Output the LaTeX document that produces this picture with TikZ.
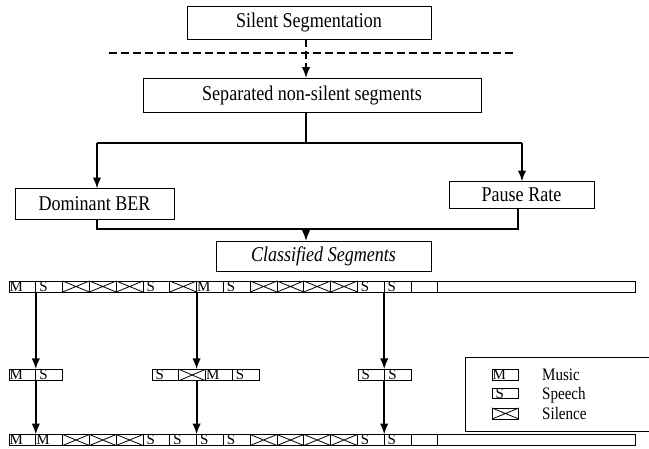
\documentclass[tikz,border=0pt]{standalone}
\usepackage{fontspec}
\setmainfont[FakeStretch=0.86]{Liberation Serif}
\newfontfamily\cellfont{Liberation Serif}
\usetikzlibrary{arrows.meta}
% letter shown inside a segment cell (M = music, S = speech)
\newcommand\segmark[1]{\if#1M\hspace*{0.6pt}M\fi\if#1S\hspace*{3.5pt}S\fi}
\begin{document}
\begin{tikzpicture}[x=1pt,y=-1pt,
  box/.style={draw, line width=0.9pt, inner sep=0pt, outer sep=0pt, font=\fontsize{21}{24}\selectfont},
  link/.style={line width=1.2pt},
  arr/.style={line width=1.8pt, -{Latex[length=11pt,width=8.5pt]}},
  dashlink/.style={line width=1.6pt, dash pattern=on 8pt off 4pt},
  cell/.style={draw, line width=0.9pt, inner sep=0pt, outer sep=0pt, minimum width=26.8pt,
    text width=26.8pt, align=left, font=\cellfont\fontsize{15}{15}\selectfont},
  longcell/.style={draw, line width=0.9pt, inner sep=0pt, outer sep=0pt, minimum width=197.2pt},
  cross/.style={line width=0.8pt},
  legendtext/.style={font=\fontsize{17.5}{17.5}\selectfont, inner sep=0pt, anchor=base west}]
\useasboundingbox (0,0) rectangle (649,448);
\fill[white] (0,0) rectangle (649,448);

% ---- processing chain ----
\node[box, minimum width=244pt, minimum height=33pt] (sil) at (309,22.5) {Silent Segmentation};
\node[box, minimum width=338pt, minimum height=34pt] (sep) at (312,95) {Separated non-silent segments};
\node[box, minimum width=159pt, minimum height=31pt] (dom) at (94.5,204) {Dominant BER};
\node[box, minimum width=145pt, minimum height=27pt] (pau) at (521.5,195) {Pause Rate};
\node[box, minimum width=215pt, minimum height=30pt] (cls) at (323.5,256) {\itshape Classified Segments};

\coordinate (d) at (306,0);
\coordinate (dl) at (109,53);
\coordinate (dr) at (513,53);
\coordinate (sl) at (97,143);
\coordinate (sr) at (522,143);
\coordinate (ml) at (97,229);
\coordinate (mr) at (518,229);

\draw[dashlink] (dl) -- (dr);
\draw[dashlink, -{Latex[length=11pt,width=8.5pt]}] (sil.south -| d) -- (sep.north -| d);
\draw[link] (sep.south -| d) -- (d |- sl);
\draw[link] (sl) -- (sr);
\draw[arr] (sl) -- (dom.north -| sl);
\draw[arr] (sr) -- (pau.north -| sr);
\draw[link] (dom.south -| ml) -- (ml) -- (mr) -- (pau.south -| mr);
\draw[arr] (d |- ml) -- (cls.north -| d);

% ---- segment sequences ----
% top sequence
\foreach \t [count=\i from 0] in {M,S,X,X,X,S,X,M,S,X,X,X,X,S,S,E} {
  \node[cell, minimum height=11pt] (top-\i) at ({9+26.8*\i+13.4},286.5) {\segmark{\t}};
  \if\t X \draw[cross] (top-\i.north west) -- (top-\i.south east) (top-\i.south west) -- (top-\i.north east);\fi
}
\node[longcell, minimum height=11pt, anchor=west] (top-long) at (top-15.east) {};

% middle pieces
\foreach \t [count=\i from 0] in {M,S} {
  \node[cell, minimum height=11.5pt] (mA-\i) at ({9+26.8*\i+13.4},375) {\segmark{\t}};
}
\foreach \t [count=\i from 0] in {S,X,M,S} {
  \node[cell, minimum height=11.5pt] (mB-\i) at ({152+26.8*\i+13.4},375) {\segmark{\t}};
  \if\t X \draw[cross] (mB-\i.north west) -- (mB-\i.south east) (mB-\i.south west) -- (mB-\i.north east);\fi
}
\foreach \t [count=\i from 0] in {S,S} {
  \node[cell, minimum height=11.5pt] (mC-\i) at ({358+26.8*\i+13.4},375) {\segmark{\t}};
}

% bottom sequence
\foreach \t [count=\i from 0] in {M,M,X,X,X,S,S,S,S,X,X,X,X,S,S,E} {
  \node[cell, minimum height=11pt] (bot-\i) at ({9+26.8*\i+13.4},440) {\segmark{\t}};
  \if\t X \draw[cross] (bot-\i.north west) -- (bot-\i.south east) (bot-\i.south west) -- (bot-\i.north east);\fi
}
\node[longcell, minimum height=11pt, anchor=west] (bot-long) at (bot-15.east) {};

% arrows between sequences
\draw[arr] (top-1.south west) -- (mA-1.north west);
\draw[arr] (mA-1.south west) -- (bot-1.north west);
\draw[arr] (top-7.south west) -- (top-7.south west |- mB-1.north);
\draw[arr] (top-7.south west |- mB-1.south) -- (bot-7.north west);
\draw[arr] (top-14.south west) -- (top-14.south west |- mC-1.north);
\draw[arr] (top-14.south west |- mC-1.south) -- (bot-14.north west);

% ---- legend ----
\node[draw, line width=0.9pt, minimum width=200pt, minimum height=74pt, anchor=north west, inner sep=0pt] (legend) at (465,357) {};
\node[cell, minimum height=11pt] (lgM) at (505.5,374.5) {\segmark{M}};
\node[cell, minimum height=9pt] (lgS) at (505.5,393.5) {\segmark{S}};
\node[cell, minimum height=11pt] (lgX) at (505.5,413.5) {};
\draw[cross] (lgX.north west) -- (lgX.south east) (lgX.south west) -- (lgX.north east);
\node[legendtext] (lgMt) at (542,380) {Music};
\node[legendtext] (lgSt) at (542,399.5) {Speech};
\node[legendtext] (lgXt) at (542,419) {Silence};
\end{tikzpicture}
\end{document}
